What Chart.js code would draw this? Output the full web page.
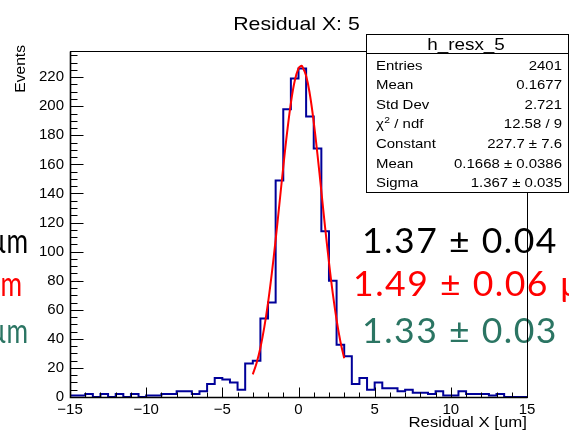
<!DOCTYPE html>
<html><head><meta charset="utf-8">
<script src="https://cdn.jsdelivr.net/npm/chart.js@4.4.1/dist/chart.umd.min.js"></script>
<style>html,body{margin:0;padding:0;background:#fff;}canvas{display:block;}</style>
</head><body>
<canvas id="c" width="569" height="439"></canvas>
<script>
// ---- data ----
const binStart = -15;
const binWidth = 0.5;
const counts = [
  1, 1, 2, 0, 2, 0, 2, 0, 2, 0,
  1, 1, 2, 2, 4, 4, 2, 4, 9, 13,
  12, 10, 5, 23, 25, 54, 65, 149, 198, 219,
  226, 193, 171, 114, 80, 36, 28, 9, 13, 5,
  10, 6, 6, 4, 5, 3, 3, 2, 4, 1,
  1, 4, 2, 2, 2, 1, 2, 0, 0, 0
];
const fitX = [-3, -2.75, -2.5, -2.25, -2, -1.75, -1.5, -1.25, -1, -0.75, -0.5, -0.25, 0, 0.17, 0.25, 0.5, 0.75, 1, 1.25, 1.5, 1.75, 2, 2.25, 2.5, 2.75, 3];
const fitY = [15.6, 23.4, 33.9, 47.7, 64.8, 85.2, 108.3, 133.1, 158.2, 181.8, 202.2, 217.4, 226.0, 227.7, 227.3, 221.0, 207.9, 189.1, 166.4, 141.5, 116.4, 92.7, 71.3, 53.1, 38.2, 26.6];
const xRange = [-15, 15];
const yRange = [0, 238];
const statsTitle = "h_resx_5";
const statsLabels = ["Entries", "Mean", "Std Dev", "χ2 / ndf", "Constant", "Mean", "Sigma"];
const statsValues = ["2401", "0.1677", "2.721", "12.58 / 9", "227.7 ± 7.6", "0.1668 ± 0.0386", "1.367 ± 0.035"];
const bigTexts = ["1.37 ± 0.04", "1.49 ± 0.06 µm", "1.33 ± 0.03"];
const titleText = "Residual X: 5";
const xTitle = "Residual X [um]";
const yTitle = "Events";

// ---- build ----
const histPts = counts.map((c, i) => ({x: binStart + i * binWidth, y: c}));
histPts.push({x: binStart + counts.length * binWidth, y: counts[counts.length - 1]});
const fitPts = fitX.map((x, i) => ({x, y: fitY[i]}));

const FONT = '"Liberation Sans", Arial, Helvetica, sans-serif';
function T(ctx, s, x, y, size, o = {}) {
  ctx.save();
  ctx.translate(x, y);
  if (o.rot) ctx.rotate(o.rot);
  ctx.scale(o.sx || 1, 1);
  ctx.font = (o.weight || '') + ' ' + size + 'px ' + (o.family || FONT);
  if (o.ls) ctx.letterSpacing = o.ls;
  ctx.fillStyle = o.color || '#000';
  ctx.textAlign = o.align || 'left';
  ctx.textBaseline = o.base || 'alphabetic';
  ctx.fillText(s, 0, 0);
  ctx.restore();
}

const overlay = {
  id: 'overlay',
  afterDatasetsDraw(chart) {
    const {ctx, chartArea: a, scales: {x, y}} = chart;
    // big overlay texts
    const bigFam = 'Lato, "Open Sans", sans-serif';
    const ls = '1.5px';
    ctx.save();
    ctx.font = '400 35px ' + bigFam;
    ctx.letterSpacing = ls;
    const sxBig = 196 / ctx.measureText(bigTexts[0]).width;
    ctx.restore();
    const bo = {family: bigFam, sx: sxBig, weight: '400', ls};
    T(ctx, bigTexts[0], 362, 253, 35, {...bo, color: '#000'});
    T(ctx, bigTexts[1], 353, 296, 35, {...bo, color: '#ff0000'});
    T(ctx, bigTexts[2], 362, 343, 35, {...bo, color: '#2b7563'});
    const lo = {family: bigFam, sx: 0.75, weight: '400', align: 'right'};
    T(ctx, 'µm', 28, 253, 35, {...lo, color: '#000'});
    T(ctx, 'µm', 22, 296, 35, {...lo, color: '#ff0000'});
    T(ctx, 'µm', 28, 343, 35, {...lo, color: '#2b7563'});

    // frame
    const L = Math.round(a.left) + 0.5, R = Math.round(a.right) + 0.5;
    const TP = Math.round(a.top) + 0.5, B = Math.round(a.bottom) + 0.5;
    ctx.save();
    ctx.strokeStyle = '#000';
    ctx.lineWidth = 1;
    ctx.strokeRect(L, TP, R - L, B - TP);
    ctx.beginPath();
    // y ticks
    for (let v = yRange[0]; v <= yRange[1]; v += 5) {
      const py = Math.round(y.getPixelForValue(v)) + 0.5;
      const len = (v % 20 === 0) ? 13 : 7;
      ctx.moveTo(L, py); ctx.lineTo(L + len, py);
    }
    // x ticks
    for (let v = xRange[0]; v <= xRange[1]; v += 1) {
      const px = Math.round(x.getPixelForValue(v)) + 0.5;
      const len = (v % 5 === 0) ? 10 : 5;
      ctx.moveTo(px, B); ctx.lineTo(px, B - len);
    }
    ctx.stroke();
    ctx.lineWidth = 1.6;
    ctx.beginPath();
    ctx.moveTo(L, TP); ctx.lineTo(L, B); ctx.lineTo(R, B);
    ctx.stroke();

    // stats box
    const bx1 = 366.5, bx2 = 568.5, by1 = 34.5, by2 = 192.5;
    ctx.fillStyle = '#fff';
    ctx.fillRect(bx1, by1, bx2 - bx1, by2 - by1);
    ctx.lineWidth = 1;
    ctx.strokeRect(bx1, by1, bx2 - bx1, by2 - by1);
    ctx.beginPath(); ctx.moveTo(bx1, 53.5); ctx.lineTo(bx2, 53.5); ctx.stroke();
    ctx.restore();

    T(ctx, statsTitle, 466, 50, 16, {align: 'center', sx: 1.18});
    const sxs = 1.15;
    statsLabels.forEach((lab, i) => {
      const by = 69.5 + i * 19.6;
      if (lab.startsWith('χ2')) {
        ctx.save();
        ctx.font = '13px ' + FONT;
        const wChi = ctx.measureText('χ').width * sxs;
        ctx.font = '9px ' + FONT;
        const w2 = ctx.measureText('2').width * sxs;
        ctx.restore();
        T(ctx, 'χ', 376, by, 13, {sx: sxs});
        T(ctx, '2', 376 + wChi + 0.5, by - 5, 9, {sx: sxs});
        T(ctx, lab.slice(2), 376 + wChi + w2 + 0.5, by, 13, {sx: sxs});
      } else {
        T(ctx, lab, 376, by, 13, {sx: sxs});
      }
      T(ctx, statsValues[i], 562, by, 13, {sx: sxs, align: 'right'});
    });

    // titles
    T(ctx, titleText, 296.5, 30, 19, {align: 'center', sx: 1.12});
    T(ctx, xTitle, 527, 427, 15, {align: 'right', sx: 1.12});
    T(ctx, yTitle, 21, 45, 15, {rot: -Math.PI / 2, align: 'right', base: 'middle', sx: 1.04});
  }
};

new Chart(document.getElementById('c'), {
  type: 'line',
  data: {
    datasets: [
      {data: histPts, stepped: 'before', borderColor: '#000099', borderWidth: 2,
       pointRadius: 0, fill: false, clip: 4, order: 2},
      {data: fitPts, borderColor: '#ff0000', borderWidth: 2, tension: 0.4,
       pointRadius: 0, fill: false, clip: 4, order: 1}
    ]
  },
  options: {
    responsive: false,
    animation: false,
    devicePixelRatio: 1,
    layout: {padding: {left: 0, top: 51, right: 42, bottom: 0}},
    plugins: {legend: {display: false}, tooltip: {enabled: false}, title: {display: false}},
    scales: {
      x: {
        type: 'linear', min: xRange[0], max: xRange[1],
        grid: {display: false, drawTicks: false, tickLength: 0}, border: {display: false},
        ticks: {stepSize: 5, padding: 4, color: '#000', maxRotation: 0,
                font: {family: FONT, size: 15},
                callback: v => String(v).replace('-', '\u2212')},
        afterFit: s => { s.height = 42; }
      },
      y: {
        min: yRange[0], max: yRange[1],
        grid: {display: false, drawTicks: false, tickLength: 0}, border: {display: false},
        ticks: {stepSize: 20, padding: 6, color: '#000', includeBounds: false,
                font: {family: FONT, size: 15}},
        afterFit: s => { s.width = 70; }
      }
    }
  },
  plugins: [overlay]
});
</script>
</body></html>
